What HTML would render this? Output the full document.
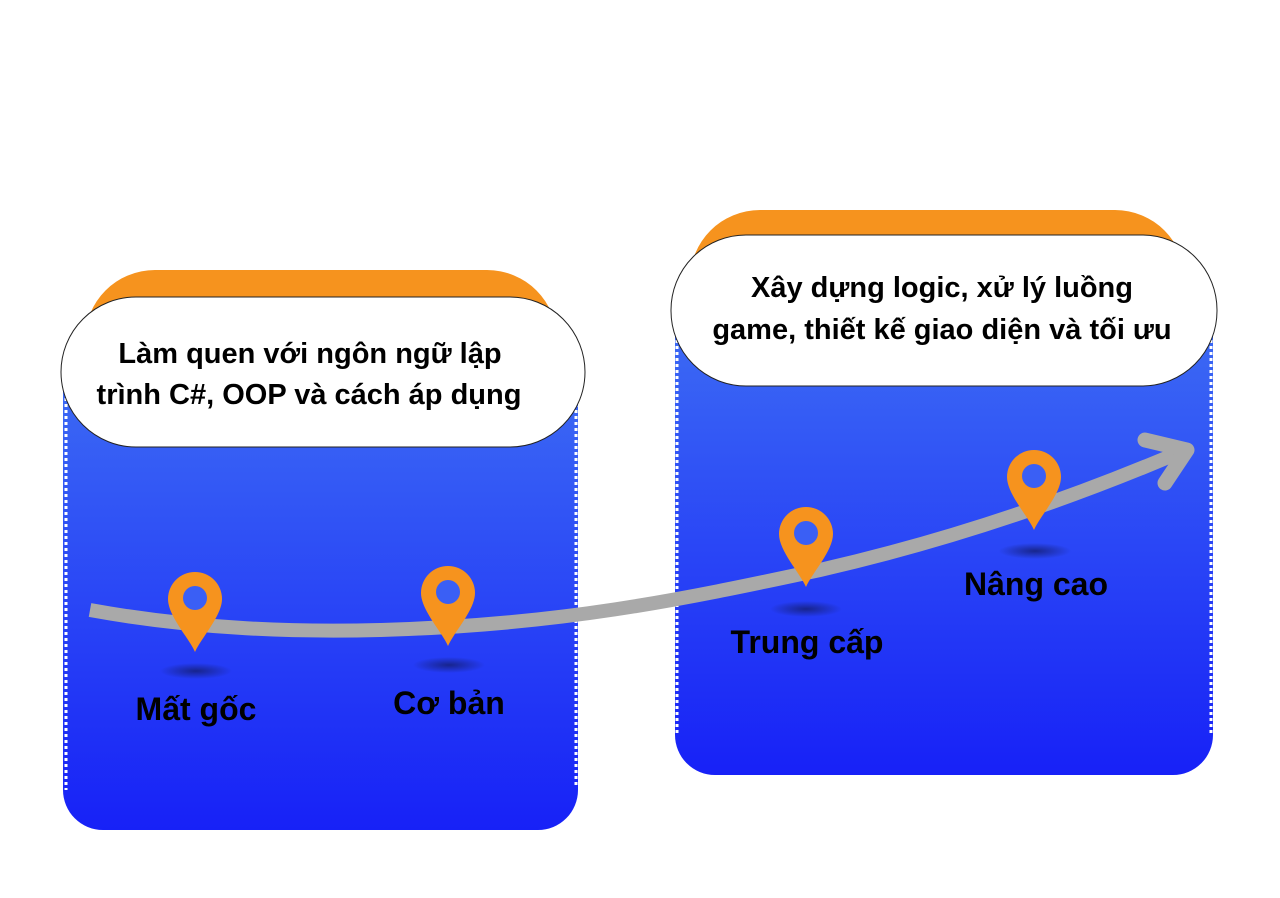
<!DOCTYPE html>
<html><head><meta charset="utf-8"><style>
html,body{margin:0;padding:0;background:#fff;}
svg{display:block;}
text{font-family:"Liberation Sans","DejaVu Sans",sans-serif;font-weight:bold;fill:#000;}
</style></head><body>
<svg width="1280" height="898" viewBox="0 0 1280 898" xmlns="http://www.w3.org/2000/svg">
<defs>
<linearGradient id="bg" x1="0" y1="0" x2="0" y2="1">
<stop offset="0" stop-color="#3f70f4"/><stop offset="1" stop-color="#1721f7"/>
</linearGradient>
<radialGradient id="sh"><stop offset="0" stop-color="#15207a" stop-opacity="0.85"/><stop offset="1" stop-color="#15207a" stop-opacity="0"/></radialGradient>
<path id="pin" d="M0,80 C-6,66 -27,44 -27,27 A27,27 0 1 1 27,27 C27,44 6,66 0,80Z" fill="#f6931e"/>
</defs>
<rect x="85" y="270" width="472" height="200" rx="70" fill="#f6931e"/>
<rect x="63" y="340" width="515" height="490" rx="40" fill="url(#bg)"/>
<line x1="66" y1="380" x2="66" y2="790" stroke="#fff" stroke-width="3" stroke-dasharray="3,3"/>
<line x1="576" y1="380" x2="576" y2="785" stroke="#fff" stroke-width="3" stroke-dasharray="3,3"/>
<rect x="61" y="297" width="524" height="150" rx="75" fill="#fff" stroke="#222" stroke-width="1"/>
<text x="310" y="363" font-size="29" text-anchor="middle">Làm quen với ngôn ngữ lập</text>
<text x="309" y="404" font-size="29" text-anchor="middle">trình C#, OOP và cách áp dụng</text>
<rect x="690" y="210" width="495" height="200" rx="70" fill="#f6931e"/>
<rect x="675" y="290" width="538" height="485" rx="40" fill="url(#bg)"/>
<line x1="677" y1="340" x2="677" y2="735" stroke="#fff" stroke-width="3" stroke-dasharray="3,3"/>
<line x1="1211" y1="340" x2="1211" y2="735" stroke="#fff" stroke-width="3" stroke-dasharray="3,3"/>
<rect x="671" y="235" width="546" height="151" rx="75" fill="#fff" stroke="#222" stroke-width="1"/>
<text x="942" y="297" font-size="29" text-anchor="middle">Xây dựng logic, xử lý luồng</text>
<text x="942" y="339" font-size="29" text-anchor="middle">game, thiết kế giao diện và tối ưu</text>
<path d="M90,610 C200,630 300,632 380,630 C560,625 680,600 820,570 C960,538 1080,495 1185,450" fill="none" stroke="#a9a9a9" stroke-width="14"/>
<path d="M1145,440 L1187,450 L1165,483" fill="none" stroke="#a9a9a9" stroke-width="15" stroke-linecap="round" stroke-linejoin="round"/>
<ellipse cx="196" cy="671" rx="36" ry="8" fill="url(#sh)"/>
<ellipse cx="449" cy="665" rx="36" ry="8" fill="url(#sh)"/>
<ellipse cx="806" cy="609" rx="36" ry="8" fill="url(#sh)"/>
<ellipse cx="1035" cy="551" rx="36" ry="8" fill="url(#sh)"/>
<g transform="translate(195,572)"><use href="#pin"/><circle cx="0" cy="26" r="12" fill="#3a5ff5"/></g>
<g transform="translate(448,566)"><use href="#pin"/><circle cx="0" cy="26" r="12" fill="#3a5ff5"/></g>
<g transform="translate(806,507)"><use href="#pin"/><circle cx="0" cy="26" r="12" fill="#3a5ff5"/></g>
<g transform="translate(1034,450)"><use href="#pin"/><circle cx="0" cy="26" r="12" fill="#3a5ff5"/></g>
<text x="196" y="720" font-size="32" text-anchor="middle">Mất gốc</text>
<text x="449" y="714" font-size="32" text-anchor="middle">Cơ bản</text>
<text x="807" y="653" font-size="32" text-anchor="middle">Trung cấp</text>
<text x="1036" y="595" font-size="32" text-anchor="middle">Nâng cao</text>
</svg>
</body></html>
